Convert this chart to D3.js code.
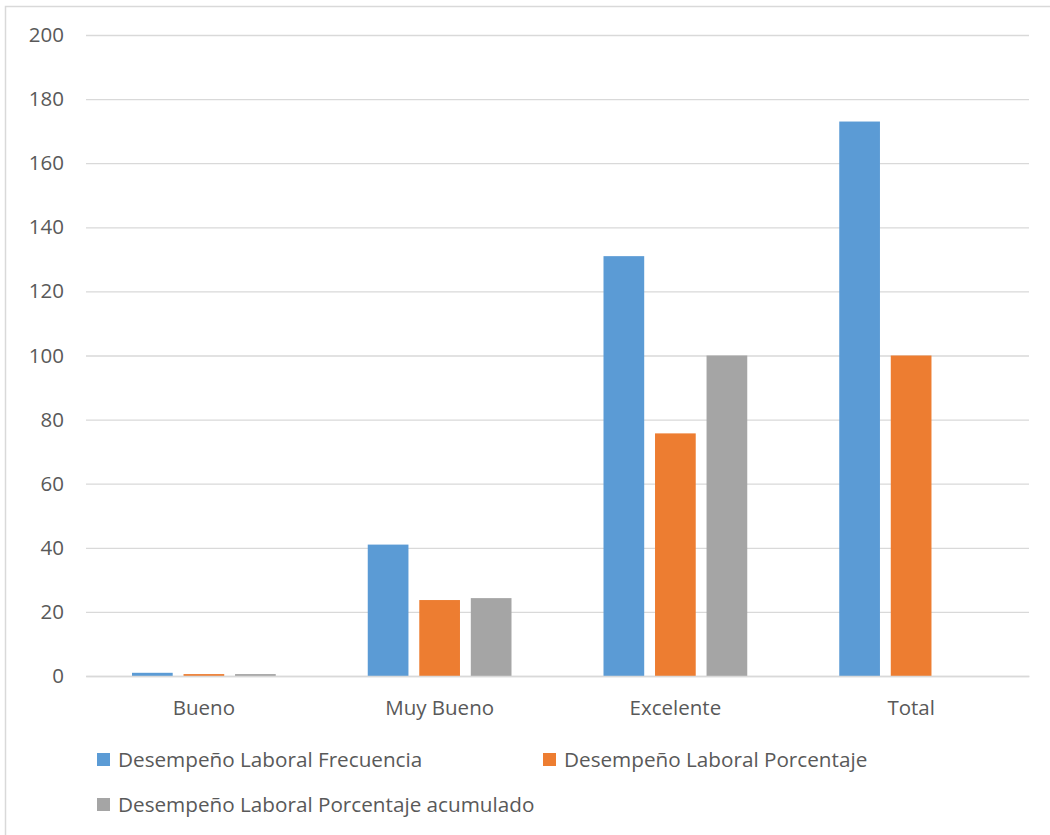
<!DOCTYPE html>
<html>
<head>
<meta charset="utf-8">
<script src="https://cdn.jsdelivr.net/npm/d3@7"></script>
<style>
  html, body { margin: 0; padding: 0; background: #fff; }
  svg { display: block; }
</style>
</head>
<body>
<script>
// Performance rating categories and the three series drawn per category
const categories = ["Bueno", "Muy Bueno", "Excelente", "Total"];
const seriesNames = [
  "Desempeño Laboral Frecuencia",
  "Desempeño Laboral Porcentaje",
  "Desempeño Laboral Porcentaje acumulado"
];
const frecuencia = [1, 41, 131, 173];
const porcentaje = [0.6, 23.7, 75.7, 100];
const acumulado = [0.6, 24.3, 100, null];
const yTicks = [0, 20, 40, 60, 80, 100, 120, 140, 160, 180, 200];
const colors = ["#5b9bd5", "#ed7d31", "#a5a5a5"];

const W = 1050, H = 835;
const plot = { left: 86, right: 1029, top: 35, bottom: 676 };
const font = "'Open Sans', 'Liberation Sans', sans-serif";
const textColor = "#595959";

const svg = d3.select("body").append("svg").attr("width", W).attr("height", H);

// chart frame
svg.append("rect")
  .attr("x", 5.5).attr("y", 6.5)
  .attr("width", W + 10).attr("height", H + 10)
  .attr("fill", "none").attr("stroke", "#d9d9d9").attr("stroke-width", 1.5);

const x0 = d3.scaleBand().domain(categories).range([plot.left, plot.right]).paddingInner(0).paddingOuter(0);
const y = d3.scaleLinear().domain([0, 200]).range([plot.bottom, plot.top]);

// gridlines + y labels via axis
const yAxis = d3.axisLeft(y).tickValues(yTicks).tickSize(-(plot.right - plot.left)).tickPadding(22);
const gy = svg.append("g").attr("transform", `translate(${plot.left},0)`).call(yAxis);
gy.select(".domain").remove();
gy.selectAll(".tick line").attr("stroke", "#d9d9d9").attr("stroke-width", 1.3);
gy.selectAll(".tick text").attr("fill", textColor).attr("font-family", font).attr("font-size", 20.5);

// bars: within each band, three bars of width ~41 separated by ~11
const series = [frecuencia, porcentaje, acumulado];
const groupPad = 46;
const x1 = d3.scaleBand().domain(d3.range(3))
  .range([groupPad, x0.bandwidth() - groupPad]).paddingInner(0.21);

categories.forEach((c, i) => {
  const g = svg.append("g").attr("transform", `translate(${x0(c)},0)`);
  series.forEach((s, k) => {
    const v = s[i];
    if (v == null) return;
    g.append("rect")
      .attr("x", x1(k))
      .attr("y", y(v))
      .attr("width", x1.bandwidth())
      .attr("height", y(0) - y(v))
      .attr("fill", colors[k]);
  });
});

// x axis baseline & labels
const xAxis = d3.axisBottom(x0).tickSize(0).tickPadding(24);
const gx = svg.append("g").attr("transform", `translate(0,${plot.bottom})`).call(xAxis);
gx.select(".domain").attr("stroke", "#d9d9d9").attr("stroke-width", 1.3);
gx.selectAll(".tick text").attr("fill", textColor).attr("font-family", font).attr("font-size", 20.5);

// legend
const legendItems = [
  { name: seriesNames[0], color: colors[0], x: 97, y: 760 },
  { name: seriesNames[1], color: colors[1], x: 543, y: 760 },
  { name: seriesNames[2], color: colors[2], x: 97, y: 805 }
];
const lg = svg.append("g");
legendItems.forEach(d => {
  lg.append("rect").attr("x", d.x).attr("y", d.y - 7).attr("width", 13).attr("height", 13).attr("fill", d.color);
  lg.append("text").attr("x", d.x + 21).attr("y", d.y).attr("dy", "0.35em")
    .attr("fill", textColor).attr("font-family", font).attr("font-size", 20.7)
    .text(d.name);
});
</script>
</body>
</html>
